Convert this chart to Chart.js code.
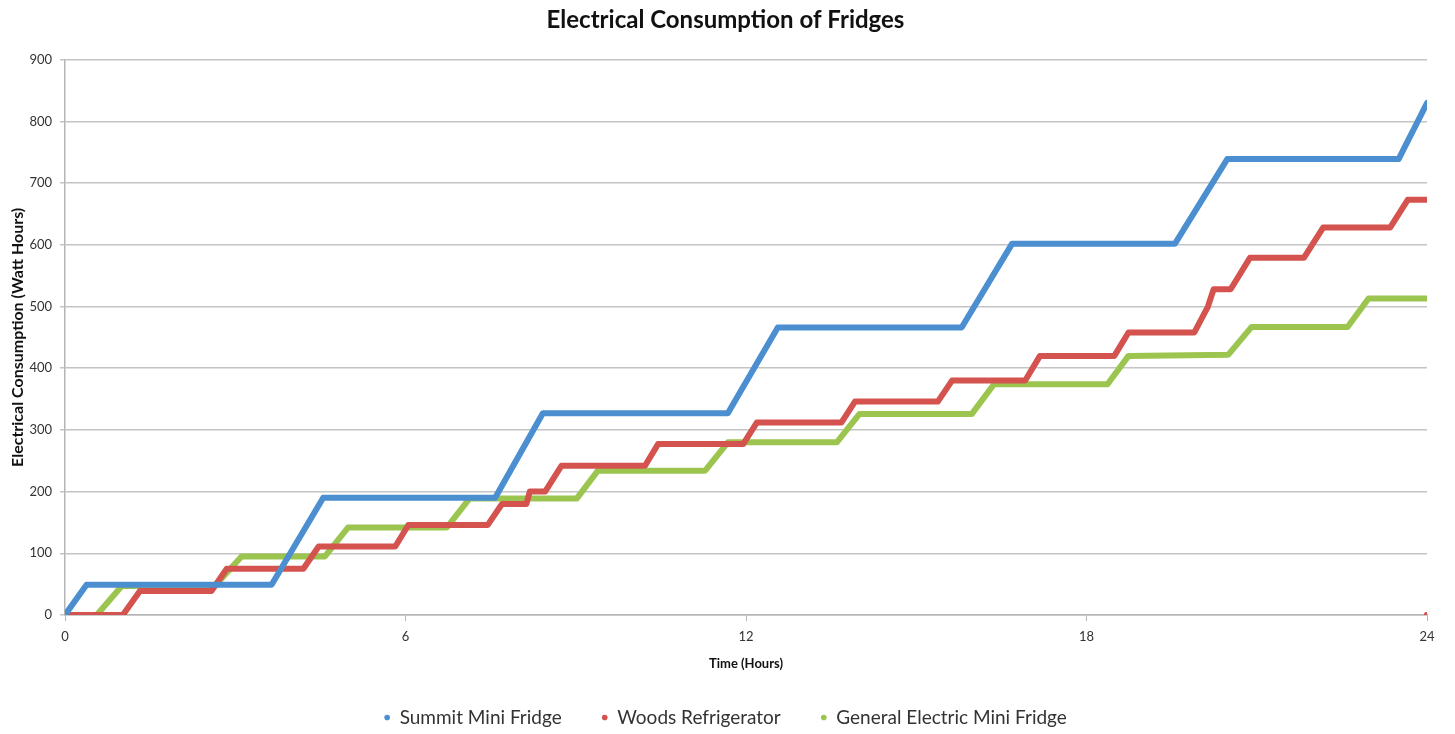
<!DOCTYPE html>
<html>
<head>
<meta charset="utf-8">
<title>Electrical Consumption of Fridges</title>
<script src="https://cdn.jsdelivr.net/npm/chart.js"></script>
<style>
    html, body { margin: 0; padding: 0; background: #fff; }
    #wrap { width: 1455px; height: 734px; }
</style>
</head>
<body>
<div id="wrap"><canvas id="fridgeChart" width="1455" height="734"></canvas></div>

<script>
// hours / watt-hours for each fridge (cumulative)
const summitHours = [0, 0.38, 3.64, 4.55, 7.58, 8.42, 11.68, 12.56, 15.8, 16.69, 19.56, 20.48, 23.5, 24];
const summitWh    = [0, 49, 49, 190, 190, 327, 327, 466, 466, 602, 602, 739, 739, 830];

// last reading of the Woods log came back as 0, kept as a lone point
const woodsHours = [0, 1.02, 1.32, 2.58, 2.85, 4.2, 4.47, 5.82, 6.05, 7.45, 7.7, 8.13, 8.19, 8.46, 8.75,
    10.22, 10.45, 11.95, 12.19, 13.68, 13.92, 15.38, 15.63, 16.92, 17.18, 18.49, 18.74, 19.9, 20.14,
    20.24, 20.54, 20.88, 21.83, 22.17, 23.35, 23.66, 24, 24, 24];
const woodsWh    = [0, 0, 39, 39, 75, 75, 111, 111, 146, 146, 180, 180, 200, 200, 242,
    242, 277, 277, 312, 312, 346, 346, 380, 380, 420, 420, 458, 458, 500,
    528, 528, 579, 579, 628, 628, 673, 673, null, 0];

const geHours = [0, 0.56, 1.0, 2.64, 3.11, 4.58, 4.99, 6.73, 7.13, 9.02, 9.39, 11.28, 11.68, 13.6, 14.0,
    15.98, 16.37, 18.37, 18.74, 20.5, 20.91, 22.6, 22.97, 24];
const geWh    = [0, 0, 47, 47, 95, 95, 142, 142, 189, 189, 234, 234, 280, 280, 326,
    326, 374, 374, 420, 422, 467, 467, 513, 513];

const xTicks = [0, 6, 12, 18, 24];
const yTicks = [0, 100, 200, 300, 400, 500, 600, 700, 800, 900];

const FONT = "Lato, 'Open Sans', sans-serif";
const BLUE = "#4b8fd1";
const RED = "#d4534e";
const GREEN = "#9cc54f";
const AXIS = "#b5b5b5";

function toPoints(hours, values) {
    return hours.map((h, i) => ({ x: h, y: values[i] }));
}

function lineSet(label, hours, values, color) {
    return {
        label: label,
        data: toPoints(hours, values),
        borderColor: color,
        backgroundColor: color,
        pointBackgroundColor: color,
        pointBorderColor: color,
        pointBorderWidth: 0,
        borderWidth: 6,
        borderCapStyle: "round",
        borderJoinStyle: "round",
        pointRadius: 0,
        tension: 0
    };
}

const woods = lineSet("Woods Refrigerator", woodsHours, woodsWh, RED);
woods.pointRadius = ctx => ctx.dataIndex === woodsHours.length - 1 ? 3 : 0;

const ctx = document.getElementById("fridgeChart").getContext("2d");
new Chart(ctx, {
    type: "line",
    data: {
        datasets: [
            lineSet("Summit Mini Fridge", summitHours, summitWh, BLUE),
            woods,
            lineSet("General Electric Mini Fridge", geHours, geWh, GREEN)
        ]
    },
    options: {
        responsive: false,
        animation: false,
        // wide legend spacing also pads it vertically, let a bit run off the canvas
        layout: { padding: { left: 24, right: 28, top: 0, bottom: -3 } },
        plugins: {
            title: {
                display: true,
                text: "Electrical Consumption of Fridges",
                color: "#111",
                font: { family: FONT, size: 24, weight: "bold" },
                padding: { top: 6, bottom: 25 }
            },
            legend: {
                position: "bottom",
                labels: {
                    usePointStyle: true,
                    pointStyle: "circle",
                    boxWidth: 6,
                    boxHeight: 4,
                    padding: 40,
                    color: "#333",
                    font: { family: FONT, size: 19 }
                }
            },
            tooltip: { enabled: false }
        },
        scales: {
            x: {
                type: "linear",
                min: 0,
                max: 24,
                afterBuildTicks: s => { s.ticks = xTicks.map(v => ({ value: v })); },
                afterFit: s => { s.height = 53; },
                grid: { drawOnChartArea: false, drawTicks: true, tickLength: 6, color: AXIS },
                border: { color: AXIS, width: 1.5 },
                ticks: { color: "#333", padding: 8, maxRotation: 0, font: { family: FONT, size: 13 } },
                title: {
                    display: true,
                    text: "Time (Hours)",
                    color: "#111",
                    font: { family: FONT, size: 13, weight: "bold" },
                    padding: { top: 0, bottom: -4 }
                }
            },
            y: {
                min: 0,
                max: 900,
                afterBuildTicks: s => { s.ticks = yTicks.map(v => ({ value: v })); },
                afterFit: s => { s.width = 41; },
                grid: { color: "#c4c4c4", lineWidth: 1.5, drawTicks: true, tickLength: 5 },
                border: { color: AXIS, width: 1.5 },
                ticks: { color: "#333", padding: 8, font: { family: FONT, size: 13 } },
                title: {
                    display: true,
                    text: "Electrical Consumption (Watt Hours)",
                    color: "#111",
                    font: { family: FONT, size: 16, weight: "bold" },
                    padding: { top: -16, bottom: 2 }
                }
            }
        }
    }
});
</script>
</body>
</html>
